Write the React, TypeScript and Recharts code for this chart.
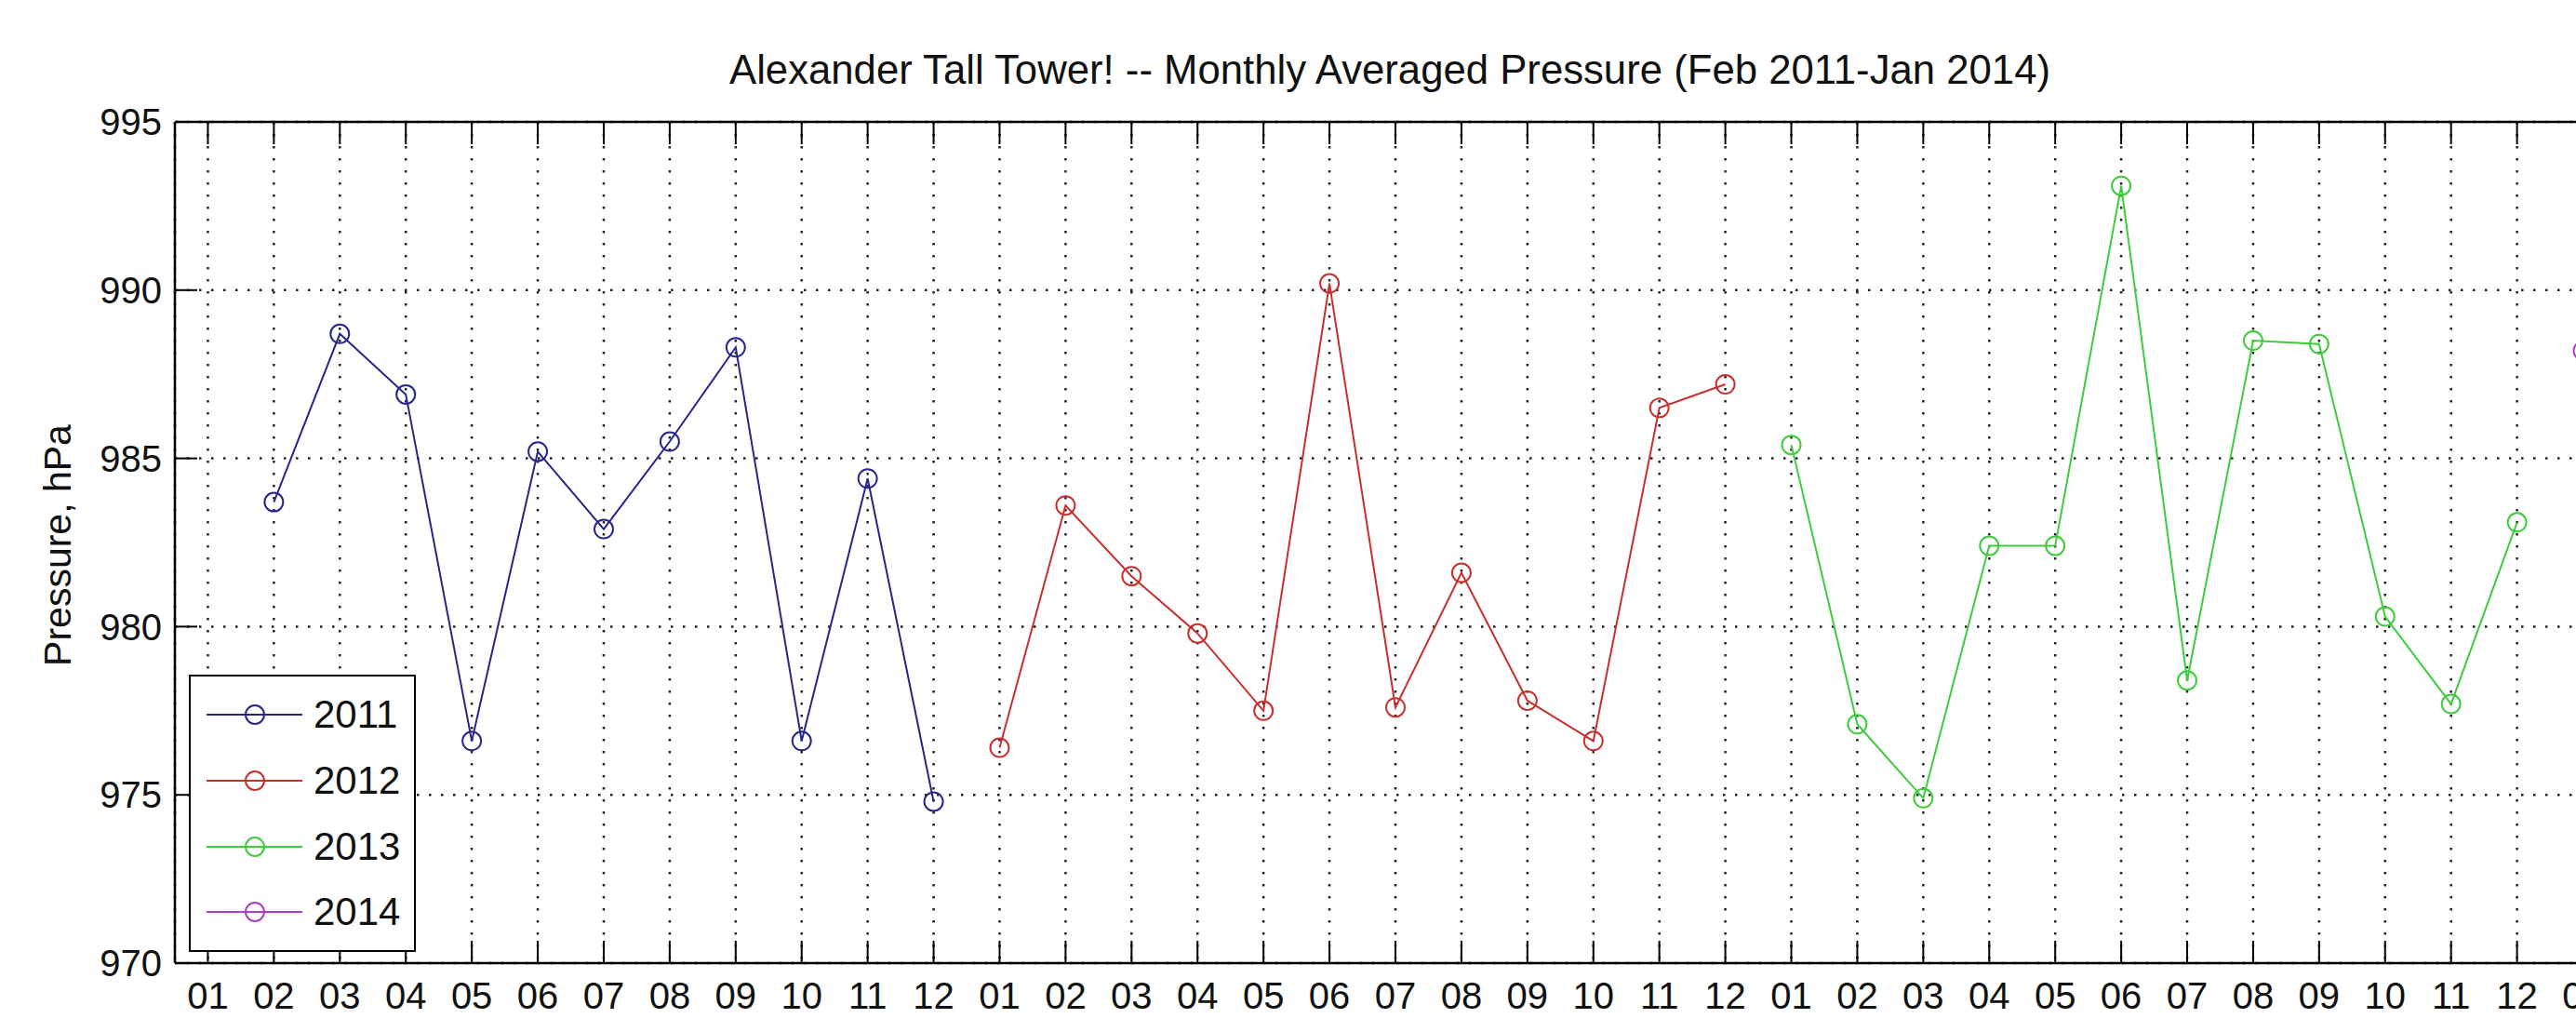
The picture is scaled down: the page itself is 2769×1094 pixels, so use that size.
import { CartesianGrid, Legend, Line, LineChart, XAxis, YAxis } from 'recharts'

const FONT = '"Liberation Sans", Arial, Helvetica, sans-serif'

const monthLabels = ['01', '02', '03', '04', '05', '06', '07', '08', '09', '10', '11', '12']
// month index 0 = Jan 2011 ... 36 = Jan 2014
const monthTicks = Array.from({ length: 37 }, (_, i) => i)
const pressureTicks = [970, 975, 980, 985, 990, 995]

const pressure2011 = [null, 983.7, 988.7, 986.9, 976.6, 985.2, 982.9, 985.5, 988.3, 976.6, 984.4, 974.8]
const pressure2012 = [976.4, 983.6, 981.5, 979.8, 977.5, 990.2, 977.6, 981.6, 977.8, 976.6, 986.5, 987.2]
const pressure2013 = [985.4, 977.1, 974.9, 982.4, 982.4, 993.1, 978.4, 988.5, 988.4, 980.3, 977.7, 983.1]
const pressure2014 = [988.2]

const series = [
  { year: '2011', values: pressure2011, color: '#26268c' },
  { year: '2012', values: pressure2012, color: '#c8302e' },
  { year: '2013', values: pressure2013, color: '#3ccc3c' },
  { year: '2014', values: pressure2014, color: '#b03cc8' },
]

function toPoints(values: Array<number | null>, yearIndex: number) {
  return values
    .map((p, m) => ({ month: yearIndex * 12 + m, p }))
    .filter((d) => d.p !== null)
}

function LegendBox({ payload }: { payload?: Array<{ value: string; color: string }> }) {
  return (
    <div
      style={{
        width: 244,
        height: 298,
        boxSizing: 'border-box',
        border: '2.5px solid #000',
        background: '#fff',
        paddingTop: 6,
        fontFamily: FONT,
      }}
    >
      {(payload ?? []).map((entry) => (
        <div key={entry.value} style={{ display: 'flex', alignItems: 'center', height: 70.7 }}>
          <svg height={40} width={132} style={{ display: 'block' }}>
            <line x1={17} x2={120} y1={20} y2={20} stroke={entry.color} strokeWidth={2} />
            <circle cx={69} cy={20} r={10} fill="none" stroke={entry.color} strokeWidth={2} />
          </svg>
          <span style={{ fontSize: 42, color: '#111', lineHeight: 1 }}>{entry.value}</span>
        </div>
      ))}
    </div>
  )
}

export default function App() {
  return (
    <div
      style={{
        position: 'fixed',
        left: 0,
        top: 0,
        width: 2769,
        height: 1094,
        overflow: 'hidden',
        background: '#fff',
        fontFamily: FONT,
      }}
    >
      <LineChart width={2830} height={1094} margin={{ top: 101, right: 18, bottom: 0, left: 0 }}>
        <CartesianGrid stroke="#222" strokeWidth={2.5} strokeDasharray="2.5 10.5" />
        <XAxis
          type="number"
          dataKey="month"
          domain={[-0.5, 36.5]}
          allowDataOverflow
          ticks={monthTicks}
          interval={0}
          height={59}
          tickSize={-24}
          tickMargin={45}
          tickFormatter={(v) => monthLabels[Number(v) % 12]}
          tick={{ fontSize: 40, fill: '#111', fontFamily: FONT }}
          axisLine={{ stroke: '#000', strokeWidth: 2.5 }}
          tickLine={{ stroke: '#000', strokeWidth: 2 }}
        />
        <XAxis
          xAxisId="top"
          orientation="top"
          type="number"
          dataKey="month"
          domain={[-0.5, 36.5]}
          allowDataOverflow
          ticks={monthTicks}
          interval={0}
          height={30}
          tickSize={-24}
          tick={() => <g />}
          axisLine={{ stroke: '#000', strokeWidth: 2.5 }}
          tickLine={{ stroke: '#000', strokeWidth: 2 }}
        />
        <YAxis
          type="number"
          domain={[970, 995]}
          allowDataOverflow
          ticks={pressureTicks}
          interval={0}
          width={188}
          tickSize={-24}
          tickMargin={38}
          tick={{ fontSize: 40, fill: '#111', fontFamily: FONT }}
          axisLine={{ stroke: '#000', strokeWidth: 2.5 }}
          tickLine={{ stroke: '#000', strokeWidth: 2 }}
        />
        {series.map((s, i) => (
          <Line
            key={s.year}
            data={toPoints(s.values, i)}
            dataKey="p"
            name={s.year}
            stroke={s.color}
            strokeWidth={2}
            type="linear"
            dot={{ r: 10, fill: 'none', stroke: s.color, strokeWidth: 2 }}
            activeDot={false}
            isAnimationActive={false}
          />
        ))}
        <Legend
          layout="vertical"
          align="center"
          verticalAlign="middle"
          content={(props: any) => <LegendBox payload={props.payload} />}
          wrapperStyle={{ left: 203, top: 725, width: 244, height: 298 }}
        />
      </LineChart>
      <svg
        width={2769}
        height={1094}
        style={{ position: 'absolute', left: 0, top: 0, pointerEvents: 'none' }}
      >
        <text
          x={1494}
          y={90}
          textAnchor="middle"
          fontSize={44}
          fontFamily={FONT}
          fill="#111"
          textLength={1420}
          lengthAdjust="spacingAndGlyphs"
        >
          Alexander Tall Tower! -- Monthly Averaged Pressure (Feb 2011-Jan 2014)
        </text>
        <text
          transform="translate(76,586) rotate(-90)"
          textAnchor="middle"
          fontSize={41}
          fontFamily={FONT}
          fill="#111"
        >
          Pressure, hPa
        </text>
      </svg>
    </div>
  )
}
